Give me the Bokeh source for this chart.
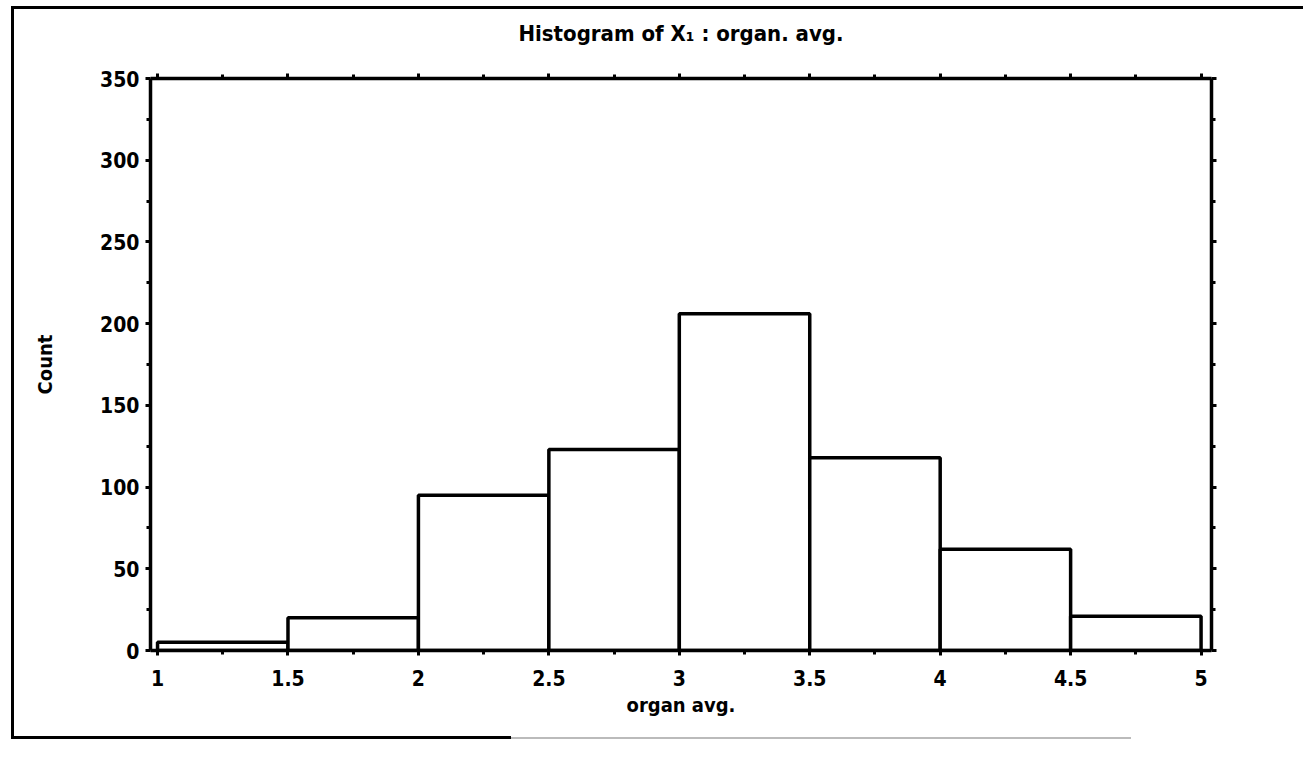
from bokeh.plotting import figure
from bokeh.models import Range1d, LinearAxis, FixedTicker, Title, CustomLabelingPolicy
from bokeh.embed import file_html
from bokeh.resources import INLINE

# ---- data ----
bin_left = [1.0, 1.5, 2.0, 2.5, 3.0, 3.5, 4.0, 4.5]
bin_right = [1.5, 2.0, 2.5, 3.0, 3.5, 4.0, 4.5, 5.0]
counts = [5, 20, 95, 123, 206, 118, 62, 21]
x_ticks = [1, 1.5, 2, 2.5, 3, 3.5, 4, 4.5, 5]
x_minor = [1.25, 1.75, 2.25, 2.75, 3.25, 3.75, 4.25, 4.75]
x_tick_labels = {1: "1", 1.5: "1.5", 2: "2", 2.5: "2.5", 3: "3", 3.5: "3.5", 4: "4", 4.5: "4.5", 5: "5"}
y_ticks = [0, 50, 100, 150, 200, 250, 300, 350]
y_minor = [25, 75, 125, 175, 225, 275, 325]
title_text = "Histogram of X\u2081 : organ. avg."
x_label = "organ avg."
y_label = "Count"

FONT = "'Liberation Sans Narrow', 'DejaVu Sans Condensed', 'Arial Narrow', sans-serif"

p = figure(
    width=1303, height=764,
    x_range=Range1d(0.973, 5.04), y_range=Range1d(0, 350),
    output_backend="svg", toolbar_location=None,
    x_axis_location=None, y_axis_location=None,
    min_border_left=150, min_border_right=92, min_border_top=78, min_border_bottom=114,
    border_fill_color=None, background_fill_color="white",
)
p.grid.visible = False
p.outline_line_color = None

p.quad(left=bin_left, right=bin_right, bottom=0, top=counts,
       fill_color="white", line_color="black", line_width=3.5)

no_labels = CustomLabelingPolicy(code="""
try { for (const i of Array.from(indices)) indices.unset(i) } catch (e) {}
return indices
""")

def style_axis(ax, labels=True):
    ax.axis_line_width = 3.5
    ax.axis_line_color = "black"
    ax.major_tick_line_width = 3
    ax.minor_tick_line_width = 3
    ax.major_tick_in = 0
    ax.major_tick_out = 5
    ax.minor_tick_in = 0
    ax.minor_tick_out = 4
    ax.major_label_text_font = FONT
    ax.major_label_text_font_style = "bold"
    ax.major_label_text_font_size = "21px"
    ax.major_label_text_color = "black"
    ax.axis_label_text_font = FONT
    ax.axis_label_text_font_style = "bold"
    ax.axis_label_text_font_size = "20px"
    ax.axis_label_text_color = "black"
    if not labels:
        ax.major_label_policy = no_labels
        ax.major_label_standoff = 0

bottom = LinearAxis(ticker=FixedTicker(ticks=x_ticks, minor_ticks=x_minor), axis_label=x_label)
bottom.major_label_overrides = {k: v for k, v in x_tick_labels.items()}
style_axis(bottom)
bottom.major_label_standoff = 14
bottom.axis_label_standoff = 4
p.add_layout(bottom, "below")

top = LinearAxis(ticker=FixedTicker(ticks=x_ticks, minor_ticks=x_minor))
style_axis(top, labels=False)
p.add_layout(top, "above")

left = LinearAxis(ticker=FixedTicker(ticks=y_ticks, minor_ticks=y_minor), axis_label=y_label)
style_axis(left)
left.major_label_standoff = 6
left.axis_label_standoff = 40
p.add_layout(left, "left")

right = LinearAxis(ticker=FixedTicker(ticks=y_ticks, minor_ticks=y_minor))
style_axis(right, labels=False)
p.add_layout(right, "right")

p.add_layout(Title(text=title_text, align="center", text_font=FONT, text_font_style="bold",
                   text_font_size="22px", text_color="black", standoff=18), "above")

# outer frame of the scanned page
p.styles = {
    "background-image": "linear-gradient(black, black), linear-gradient(black, black), "
                        "linear-gradient(black, black), linear-gradient(#bbbbbb, #bbbbbb)",
    "background-position": "11px 6px, 11px 6px, 11px 736px, 511px 737px",
    "background-size": "3px 732px, 1292px 3px, 500px 3px, 620px 2px",
    "background-repeat": "no-repeat",
}

open("out.html", "w").write(file_html(p, INLINE))
